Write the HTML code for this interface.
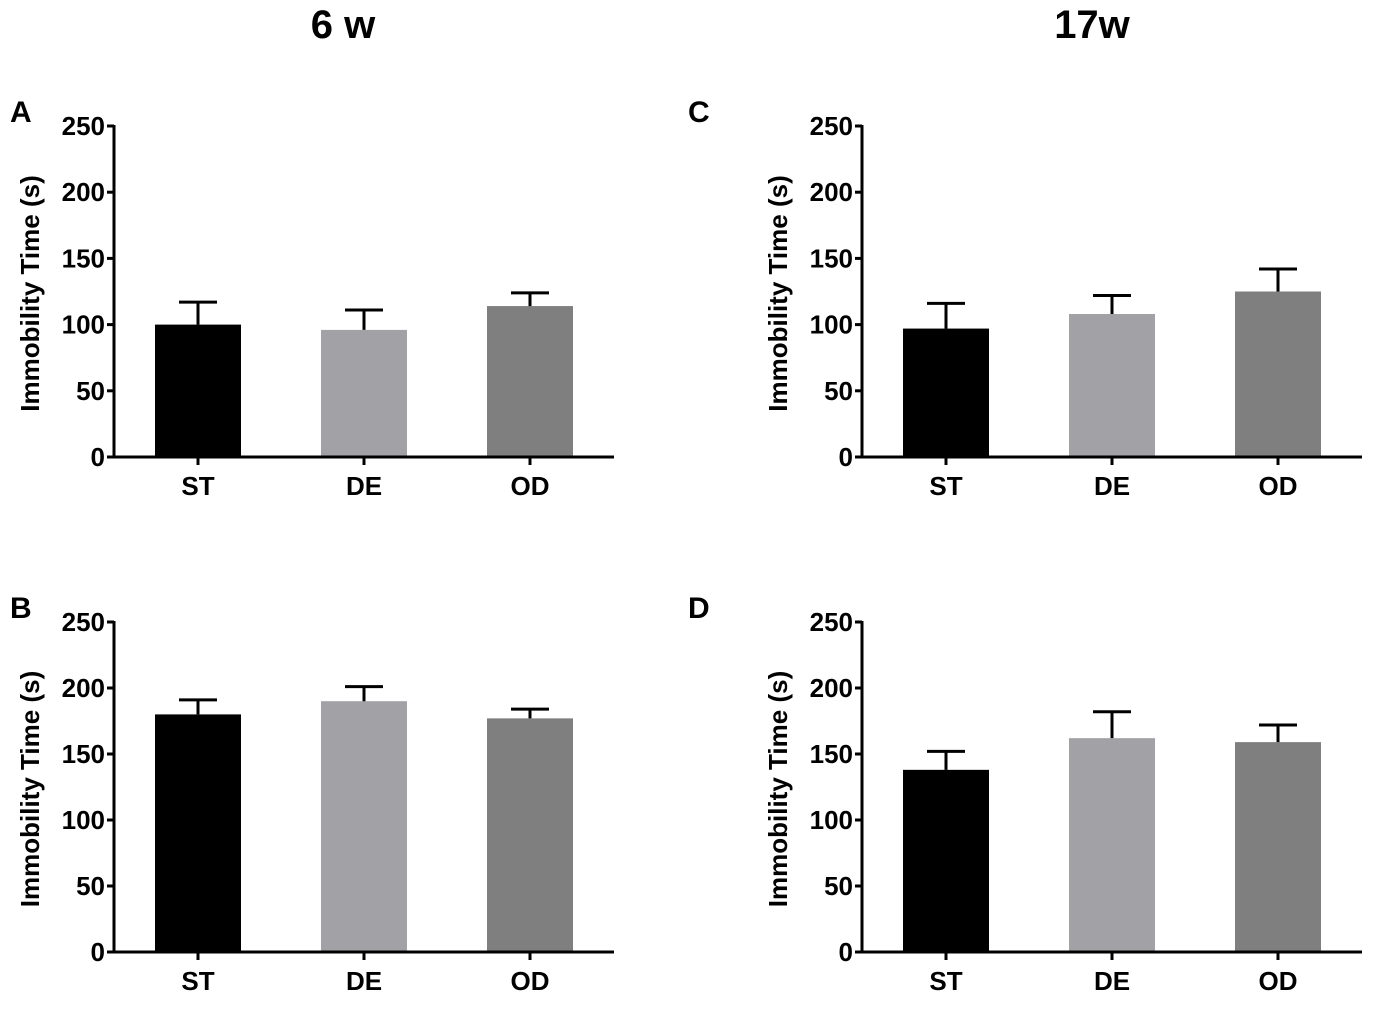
<!DOCTYPE html>
<html><head><meta charset="utf-8">
<style>
html,body{margin:0;padding:0;background:#fff;}
svg{display:block;font-family:"Liberation Sans",Arial,sans-serif;}
</style></head>
<body>
<svg id="fig" width="1374" height="1012" viewBox="0 0 1374 1012">
  <text x="343" y="38" font-size="40" font-weight="bold" text-anchor="middle">6 w</text>
  <text x="1092" y="38" font-size="40" font-weight="bold" text-anchor="middle">17w</text>
</svg>
<script>
const categories = ["ST","DE","OD"];
const barColors = ["#000000","#a2a2a6","#7f7f7f"];
const yTicks = [0,50,100,150,200,250];
const meansA = [100,96,114];
const errA = [17,15,10];
const meansB = [180,190,177];
const errB = [11,11,7];
const meansC = [97,108,125];
const errC = [19,14,17];
const meansD = [138,162,159];
const errD = [14,20,13];

const NS = "http://www.w3.org/2000/svg";
const svg = document.getElementById("fig");
function mk(tag, attrs, parent){
  const e = document.createElementNS(NS, tag);
  for (const k in attrs) e.setAttribute(k, attrs[k]);
  (parent||svg).appendChild(e);
  return e;
}
function panel(letter, x0, yTop, yBot, means, errs, letterX){
  const g = mk("g", {});
  
  
  const yScale = v => yBot - (v/250)*(yBot - yTop);
  const xCenter = i => x0 + 84 + i*166;
  const lab = mk("text", {x: letterX, y: yTop-4, "font-size": 30, "font-weight": "bold"}, g);
  lab.textContent = letter;
  
  
  means.forEach((m,i)=>{
    const y = yScale(m);
    const r = mk("rect", {x: xCenter(i)-43, y: y, width: 86, height: yBot-y, fill: barColors[i]}, g);
    
    
    const yt = yScale(m + errs[i]);
    const eb = mk("path", {d: `M${xCenter(i)} ${y} V${yt} M${xCenter(i)-19} ${yt} H${xCenter(i)+19}`, stroke: "#000", "stroke-width": 3, fill: "none"}, g);
    
    
  });
  const ya = mk("line", {x1: x0, y1: yTop-1, x2: x0, y2: yBot+1, stroke: "#000", "stroke-width": 3}, g);
  
  
  const xa = mk("line", {x1: x0-7, y1: yBot, x2: x0+500, y2: yBot, stroke: "#000", "stroke-width": 3}, g);
  
  
  yTicks.forEach(t=>{
    const y = yScale(t);
    mk("line", {x1: x0-7, y1: y, x2: x0, y2: y, stroke: "#000", "stroke-width": 3}, g);
    const tl = mk("text", {x: x0-9, y: y+9, "font-size": 26, "font-weight": "bold", "text-anchor": "end"}, g);
    tl.textContent = t;
    
    
  });
  categories.forEach((c,i)=>{
    mk("line", {x1: xCenter(i), y1: yBot, x2: xCenter(i), y2: yBot+8, stroke: "#000", "stroke-width": 3}, g);
    const tl = mk("text", {x: xCenter(i), y: yBot+38, "font-size": 26, "font-weight": "bold", "text-anchor": "middle"}, g);
    tl.textContent = c;
    
    
  });
  const yt = mk("text", {transform: `translate(${x0-75},${(yTop+yBot)/2+2}) rotate(-90)`, "font-size": 26, "font-weight": "bold", "text-anchor": "middle"}, g);
  yt.textContent = "Immobility Time (s)";
  
  
}
panel("A", 114, 126, 457, meansA, errA, 10);
panel("C", 862, 126, 457, meansC, errC, 688);
panel("B", 114, 622, 952, meansB, errB, 10);
panel("D", 862, 622, 952, meansD, errD, 688);
</script>
</body></html>
